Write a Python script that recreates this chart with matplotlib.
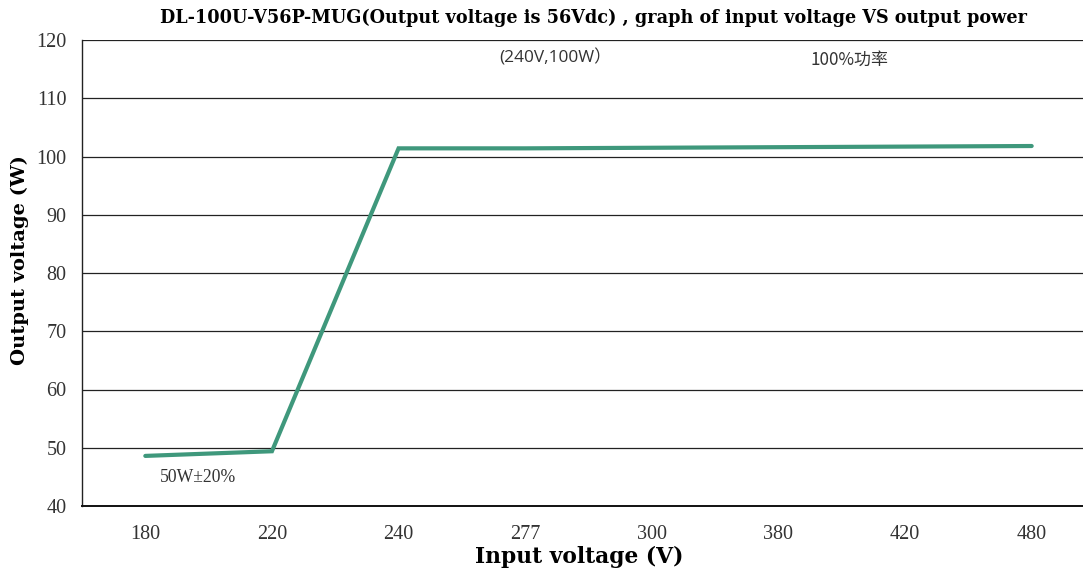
import matplotlib
matplotlib.use("Agg")
import matplotlib.pyplot as plt

categories = ["180", "220", "240", "277", "300", "380", "420", "480"]
power = [48.6, 49.4, 101.4, 101.4, 101.5, 101.6, 101.7, 101.8]
yticks = [40, 50, 60, 70, 80, 90, 100, 110, 120]

title_text = "DL-100U-V56P-MUG(Output voltage is 56Vdc) , graph of input voltage VS output power"
xlabel_text = "Input voltage (V)"
ylabel_text = "Output voltage (W)"
note_point = "(240V,100W）"
note_full = "100%功率"
note_low = "50W±20%"

W, H = 1083, 571
fig = plt.figure(figsize=(W / 100, H / 100), dpi=100)
fig.patch.set_facecolor("white")

ax = fig.add_axes([82 / W, 1 - 506 / H, (1095 - 82) / W, (506 - 40) / H])
ax.set_facecolor("none")

x = list(range(len(categories)))
ax.plot(x, power, color="#3f987c", lw=3.0, solid_capstyle="round", solid_joinstyle="miter", zorder=3)

ax.set_xlim(-0.5, len(categories) - 0.5)
ax.set_ylim(40, 120)
ax.set_yticks(yticks)
ax.set_xticks(x)
ax.set_xticklabels(categories)
for y in yticks[1:]:
    ax.axhline(y, color="#222222", lw=0.9, zorder=1)
for s in ["top", "right"]:
    ax.spines[s].set_visible(False)
ax.spines["left"].set_color("#222222")
ax.spines["left"].set_linewidth(1.0)
ax.spines["bottom"].set_color("#111111")
ax.spines["bottom"].set_linewidth(1.4)
ax.tick_params(length=0, labelsize=14.5, colors="#333333")
ax.tick_params(axis="y", pad=11)
ax.tick_params(axis="x", pad=14)
for lab in ax.get_xticklabels() + ax.get_yticklabels():
    lab.set_family("Liberation Serif")

renderer = fig.canvas.get_renderer()


def fit(t, target, horizontal=True):
    bb = t.get_window_extent(renderer)
    cur = bb.width if horizontal else bb.height
    t.set_fontsize(t.get_fontsize() * target / cur)


t = fig.text(593 / W, 1 - 18 / H, title_text, ha="center", va="center",
             fontsize=12, fontweight="bold", family="DejaVu Serif")
fit(t, 861)
t = fig.text(579 / W, 1 - 557 / H, xlabel_text, ha="center", va="center",
             fontsize=14, fontweight="bold", family="DejaVu Serif")
fit(t, 208)
t = fig.text(20 / W, 1 - 260 / H, ylabel_text, ha="center", va="center", rotation=90,
             fontsize=14, fontweight="bold", family="DejaVu Serif")
fit(t, 210, horizontal=False)

t = fig.text(555 / W, 1 - 58 / H, note_point, ha="center", va="center", fontsize=12,
             family=["Open Sans", "Noto Sans CJK SC", "DejaVu Sans"], color="#333333")
fit(t, 112)
t = fig.text(850 / W, 1 - 60 / H, note_full, ha="center", va="center", fontsize=12,
             family=["Noto Sans CJK SC", "DejaVu Sans"], color="#333333")
fit(t, 78)
t = fig.text(198 / W, 1 - 477 / H, note_low, ha="center", va="center", fontsize=12,
             family=["Liberation Serif", "DejaVu Sans"], color="#333333")
fit(t, 76)

fig.savefig("out.png", dpi=100)
